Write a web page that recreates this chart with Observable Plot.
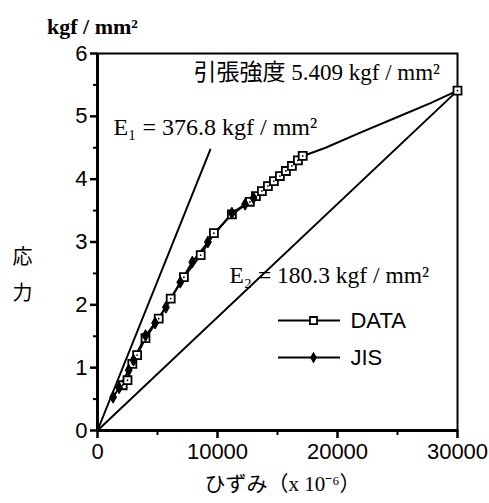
<!DOCTYPE html>
<html><head><meta charset="utf-8">
<script src="https://cdn.jsdelivr.net/npm/d3@7"></script>
<script src="https://cdn.jsdelivr.net/npm/@observablehq/plot@0.6"></script>
<style>body{margin:0;background:#fff}</style>
</head><body><div id="chart"></div>
<script>
// ---- data ----
const seriesNames = ["DATA", "JIS"];
// DATA series: points drawn with square markers
const dataStrain = [2100, 2500, 2900, 3300, 4000, 5100, 6100, 7200, 8600, 9700, 11200, 12700, 13200, 13700, 14200, 14700, 15200, 15700, 16200, 16700, 17100];
const dataStress = [0.72, 0.80, 1.06, 1.20, 1.47, 1.78, 2.10, 2.44, 2.79, 3.14, 3.44, 3.64, 3.73, 3.81, 3.89, 3.97, 4.05, 4.13, 4.21, 4.30, 4.37];
// DATA series tail (no markers) up to the tensile strength point
const tailStrain = [17300, 19000, 22000, 25250, 27750];
const tailStress = [4.38, 4.50, 4.75, 5.01, 5.21];
const ultimateStrain = [30000];
const ultimateStress = [5.409];
// JIS series
const jisStrain = [1300, 1800, 2600, 3000, 4000, 4800, 5700, 6900, 7900, 9200, 11200, 12300, 13000];
const jisStress = [0.53, 0.68, 0.96, 1.12, 1.51, 1.71, 1.96, 2.36, 2.68, 3.00, 3.46, 3.60, 3.70];
// modulus lines
const e1Strain = [0, 9400];
const e1Stress = [0, 4.47];
const e2Strain = [0, 30000];
const e2Stress = [0, 5.409];
// ticks
const xTicks = [0, 10000, 20000, 30000];
const xMinor = [5000, 15000, 25000];
const yTicks = [0, 1, 2, 3, 4, 5, 6];
const yMinor = [0.5, 1.5, 2.5, 3.5, 4.5, 5.5];
// texts
const strengthLabel = "引張強度 5.409 kgf / mm²";
const e1Label = "E₁ = 376.8 kgf / mm²";
const e2Label = "E₂ = 180.3 kgf / mm²";
const yUnit = "kgf / mm²";
const yTitle = "応\n力";
const xTitle = "ひずみ（x 10⁻⁶）";

// ---- tables ----
const zip = (xs, ys) => xs.map((x, i) => ({x, y: ys[i]}));
const dataMarked = zip(dataStrain, dataStress);
const dataAll = [...dataMarked, ...zip(tailStrain, tailStress), ...zip(ultimateStrain, ultimateStress)];
const dataDots = [...dataMarked, ...zip(ultimateStrain, ultimateStress)];
const jis = zip(jisStrain, jisStress);
const e1 = zip(e1Strain, e1Stress);
const e2 = zip(e2Strain, e2Stress);

const serif = "'Liberation Serif', 'Noto Sans CJK JP', serif";
const sans = "'Liberation Sans', Arial, sans-serif";

const chart = Plot.plot({
  width: 489, height: 503,
  marginLeft: 97, marginRight: 32, marginTop: 53, marginBottom: 73,
  x: {domain: [0, 30000]},
  y: {domain: [0, 6]},
  style: {fontFamily: sans, background: "white", color: "black"},
  marks: [
    Plot.frame({strokeWidth: 2}),
    Plot.ruleX([0], {strokeWidth: 3}),
    Plot.ruleY([0], {strokeWidth: 3}),
    Plot.axisX({ticks: xTicks, tickSize: 8, tickPadding: 5, tickFormat: d => String(d), fontSize: 22, strokeWidth: 2.5, label: null}),
    Plot.axisX({ticks: xMinor, tickSize: 5, text: null, strokeWidth: 2, label: null}),
    Plot.axisY({ticks: yTicks, tickSize: 7, tickPadding: 3, tickFormat: d => String(d), fontSize: 22, strokeWidth: 2.5, label: null}),
    Plot.axisY({ticks: yMinor, tickSize: 4, text: null, strokeWidth: 2, label: null}),
    Plot.line(e1, {x: "x", y: "y", strokeWidth: 2}),
    Plot.line(e2, {x: "x", y: "y", strokeWidth: 2}),
    Plot.line(dataAll, {x: "x", y: "y", strokeWidth: 2}),
    Plot.line(jis, {x: "x", y: "y", strokeWidth: 2}),
    Plot.dot(dataDots, {x: "x", y: "y", symbol: "square", r: 4.5, fill: "white", stroke: "black", strokeWidth: 1.8}),
    Plot.dot(dataDots, {x: "x", y: "y", r: 0.9, fill: "black"}),
    Plot.dot(jis, {x: "x", y: "y", symbol: "diamond", r: 3.6, fill: "black", stroke: "black", strokeWidth: 1}),
    // annotations
    Plot.text([strengthLabel], {x: () => 8000, y: () => 5.69, text: d => d, textAnchor: "start", fontSize: 23, fontFamily: serif}),
    Plot.text([e1Label], {x: () => 1330, y: () => 4.83, text: d => d, textAnchor: "start", fontSize: 24, fontFamily: serif}),
    Plot.text([e2Label], {x: () => 11000, y: () => 2.47, text: d => d, textAnchor: "start", fontSize: 23.5, fontFamily: serif}),
    // legend
    Plot.ruleY([1.75], {x1: 15080, x2: 20250, strokeWidth: 2}),
    Plot.dot([seriesNames[0]], {x: () => 18000, y: () => 1.75, symbol: "square", r: 4, fill: "white", stroke: "black", strokeWidth: 1.8}),
    Plot.text([seriesNames[0]], {x: () => 21080, y: () => 1.75, text: d => d, textAnchor: "start", fontSize: 22, fontFamily: sans}),
    Plot.ruleY([1.16], {x1: 15080, x2: 20250, strokeWidth: 2}),
    Plot.dot([seriesNames[1]], {x: () => 18000, y: () => 1.16, symbol: "diamond", r: 3.6, fill: "black"}),
    Plot.text([seriesNames[1]], {x: () => 21080, y: () => 1.16, text: d => d, textAnchor: "start", fontSize: 22, fontFamily: sans}),
    // axis titles
    Plot.text([yUnit], {frameAnchor: "top-left", dx: -5, dy: -35, text: d => d, textAnchor: "middle", fontSize: 22, fontWeight: "bold", fontFamily: serif}),
    Plot.text([yTitle], {frameAnchor: "left", dx: -75, dy: 28, text: d => d, textAnchor: "middle", lineHeight: 1.8, fontSize: 20, fontFamily: "'Noto Sans CJK JP', sans-serif"}),
    Plot.text([xTitle], {frameAnchor: "bottom", dx: 5, dy: 60, text: d => d, textAnchor: "middle", fontSize: 21, fontFamily: serif})
  ]
});
document.getElementById("chart").appendChild(chart);
</script>
</body></html>
